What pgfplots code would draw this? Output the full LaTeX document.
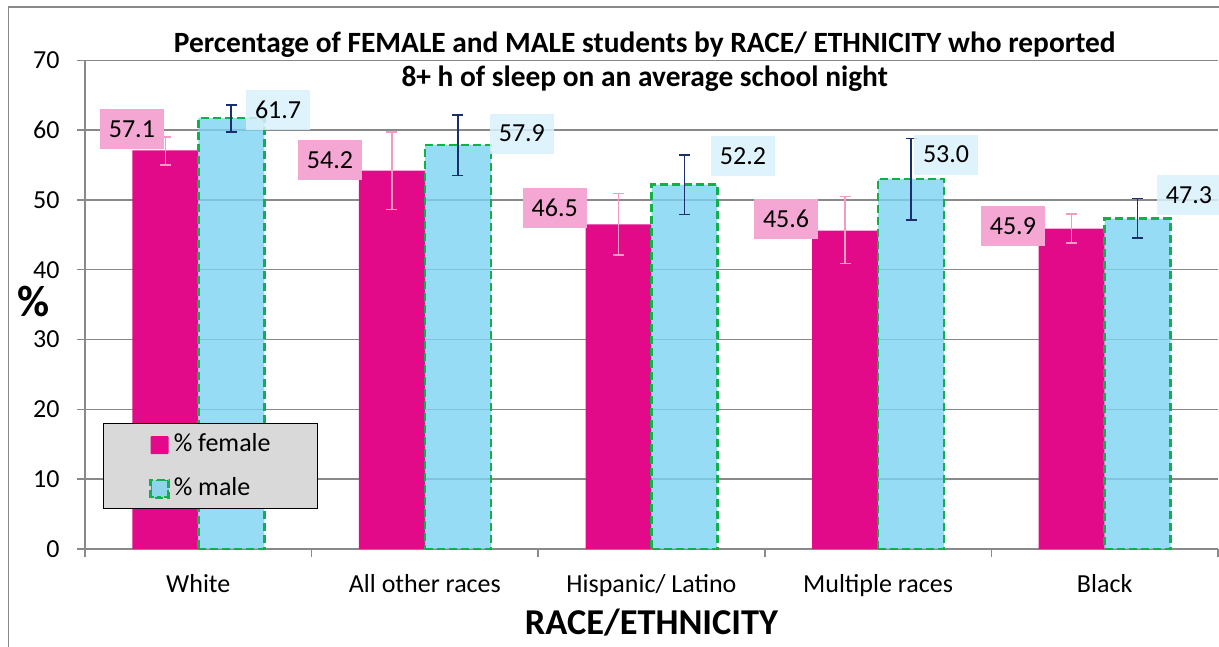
\documentclass[border=0pt]{standalone}
\usepackage{pgfplots}
\pgfplotsset{compat=1.18}
\usepackage{fontspec}
\setmainfont{Carlito}
\definecolor{fem}{HTML}{E20A88}
\definecolor{malfill}{HTML}{7DD3F2}
\definecolor{malbd}{HTML}{12B04B}
\definecolor{femlab}{HTML}{F4A7D3}
\definecolor{mallab}{HTML}{D9F1FB}
\definecolor{femerr}{HTML}{F59AC0}
\definecolor{malerr}{HTML}{1A2F6E}
\definecolor{gridc}{HTML}{898989}
\definecolor{legbg}{HTML}{D9D9D9}
\begin{document}
\begin{tikzpicture}[x=1pt,y=1pt]
\useasboundingbox (0,0) rectangle (1219,647);
\draw[gridc, line width=1.5pt] (8.5,0) -- (8.5,640) -- (1219,640);
\begin{axis}[
  at={(85pt,98.1pt)}, anchor=south west,
  scale only axis, width=1133pt, height=488.6pt,
  xmin=-0.5, xmax=4.5, ymin=0, ymax=70,
  clip=false,
  axis lines*=left,
  axis line style={gridc, line width=1.5pt},
  tick style={gridc, line width=1.5pt},
  tick align=outside,
  major tick length=8pt, minor tick length=8pt,
  xtick={0,1,2,3,4},
  xticklabels={White, All other races, Hispanic/ Latino, Multiple races, Black},
  minor xtick={-0.5,0.5,1.5,2.5,3.5,4.5},
  major x tick style={draw=none},
  ytick={0,10,...,70},
  ymajorgrids, grid style={gridc, line width=1.5pt},
  /pgf/number format/assume math mode=true,
  ticklabel style={font=\fontsize{26}{26}\selectfont},
  xticklabel style={anchor=base, yshift=-36pt},
  yticklabel style={anchor=east, xshift=-14pt},
  xlabel={RACE/ETHNICITY},
  xlabel style={font=\fontsize{36.4}{36}\selectfont\bfseries, at={(rel axis cs:0.5,0)}, anchor=base, yshift=-86pt},
  title={Percentage of FEMALE and MALE students by RACE/ ETHNICITY who reported\\8+ h of sleep on an average school night},
  title style={font=\fontsize{29.4}{34}\selectfont\bfseries, align=center, at={(rel axis cs:0.494,1)}, anchor=north, inner sep=0pt, yshift=23pt},
  legend style={at={(rel axis cs:0.0156,0.258)}, anchor=north west, fill=legbg, draw=black, line width=1.2pt,
    font=\fontsize{26}{26}\selectfont, inner xsep=46pt, inner ysep=9.5pt, row sep=22pt, column sep=3pt,
    nodes={inner sep=1pt}},
  legend cell align=left,
]
\addplot[ybar, bar width=0.291, bar shift=-0.1456, fill=fem, draw=none,
  legend image code/.code={\fill[fem, rounded corners=1pt] (0pt,-10.5pt) rectangle (18pt,7.5pt);}]
coordinates {(0,57.1) (1,54.2) (2,46.5) (3,45.6) (4,45.9)};
\addlegendentry{\% female}
\addplot[ybar, bar width=0.291, bar shift=0.1456, fill=malfill, fill opacity=0.8, draw=malbd, line width=2.5pt, dash pattern=on 8pt off 4pt,
  legend image code/.code={\fill[fill=malfill, fill opacity=0.8] (0pt,-10.5pt) rectangle (18pt,7.5pt); \draw[draw=malbd, fill=none, line width=1.5pt, dash pattern=on 4pt off 3pt] (0.75pt,-9.75pt) rectangle (17.25pt,6.75pt);}]
coordinates {(0,61.7) (1,57.9) (2,52.2) (3,53.0) (4,47.3)};
\addlegendentry{\% male}
% error bars (female, at bar centres)
\addplot[forget plot, draw=none, mark=none,
  error bars/.cd, y dir=both, y explicit,
  error bar style={femerr, line width=1.6pt, solid},
  error mark options={rotate=90, mark size=5.5pt, femerr, line width=1.6pt, solid}]
coordinates {
 (-0.1456,57.1) += (0,1.9) -= (0,2.1)
 (0.8544,54.2) += (0,5.5) -= (0,5.6)
 (1.8544,46.5) += (0,4.4) -= (0,4.4)
 (2.8544,45.6) += (0,4.9) -= (0,4.7)
 (3.8544,45.9) += (0,2.1) -= (0,2.1)
};
% error bars (male)
\addplot[forget plot, draw=none, mark=none,
  error bars/.cd, y dir=both, y explicit,
  error bar style={malerr, line width=1.6pt, solid},
  error mark options={rotate=90, mark size=5.5pt, malerr, line width=1.6pt, solid}]
coordinates {
 (0.1456,61.7) += (0,1.9) -= (0,2.0)
 (1.1456,57.9) += (0,4.3) -= (0,4.4)
 (2.1456,52.2) += (0,4.2) -= (0,4.3)
 (3.1456,53.0) += (0,5.8) -= (0,5.9)
 (4.1456,47.3) += (0,2.9) -= (0,2.8)
};
\addplot[forget plot, draw=none, mark=none, nodes near coords, point meta=explicit symbolic,
  nodes near coords style={anchor=center, fill=femlab, inner sep=0pt, minimum width=64pt, minimum height=40pt, font=\fontsize{26}{26}\selectfont}]
coordinates {(-0.293,60.1) [57.1] (0.581,55.7) [54.2] (1.573,48.8) [46.5] (2.594,47.3) [45.6] (3.595,46.3) [45.9]};
\addplot[forget plot, draw=none, mark=none, nodes near coords, point meta=explicit symbolic,
  nodes near coords style={anchor=center, fill=mallab, fill opacity=0.85, text opacity=1, inner sep=0pt, minimum width=64pt, minimum height=40pt, font=\fontsize{26}{26}\selectfont}]
coordinates {(0.352,62.9) [61.7] (1.428,59.5) [57.9] (2.404,56.3) [52.2] (3.300,56.5) [53.0] (4.372,50.7) [47.3]};
\node[font=\fontsize{44}{44}\selectfont\bfseries, anchor=center] at (rel axis cs:-0.0455,0.507) {\%};
\end{axis}
\end{tikzpicture}
\end{document}
